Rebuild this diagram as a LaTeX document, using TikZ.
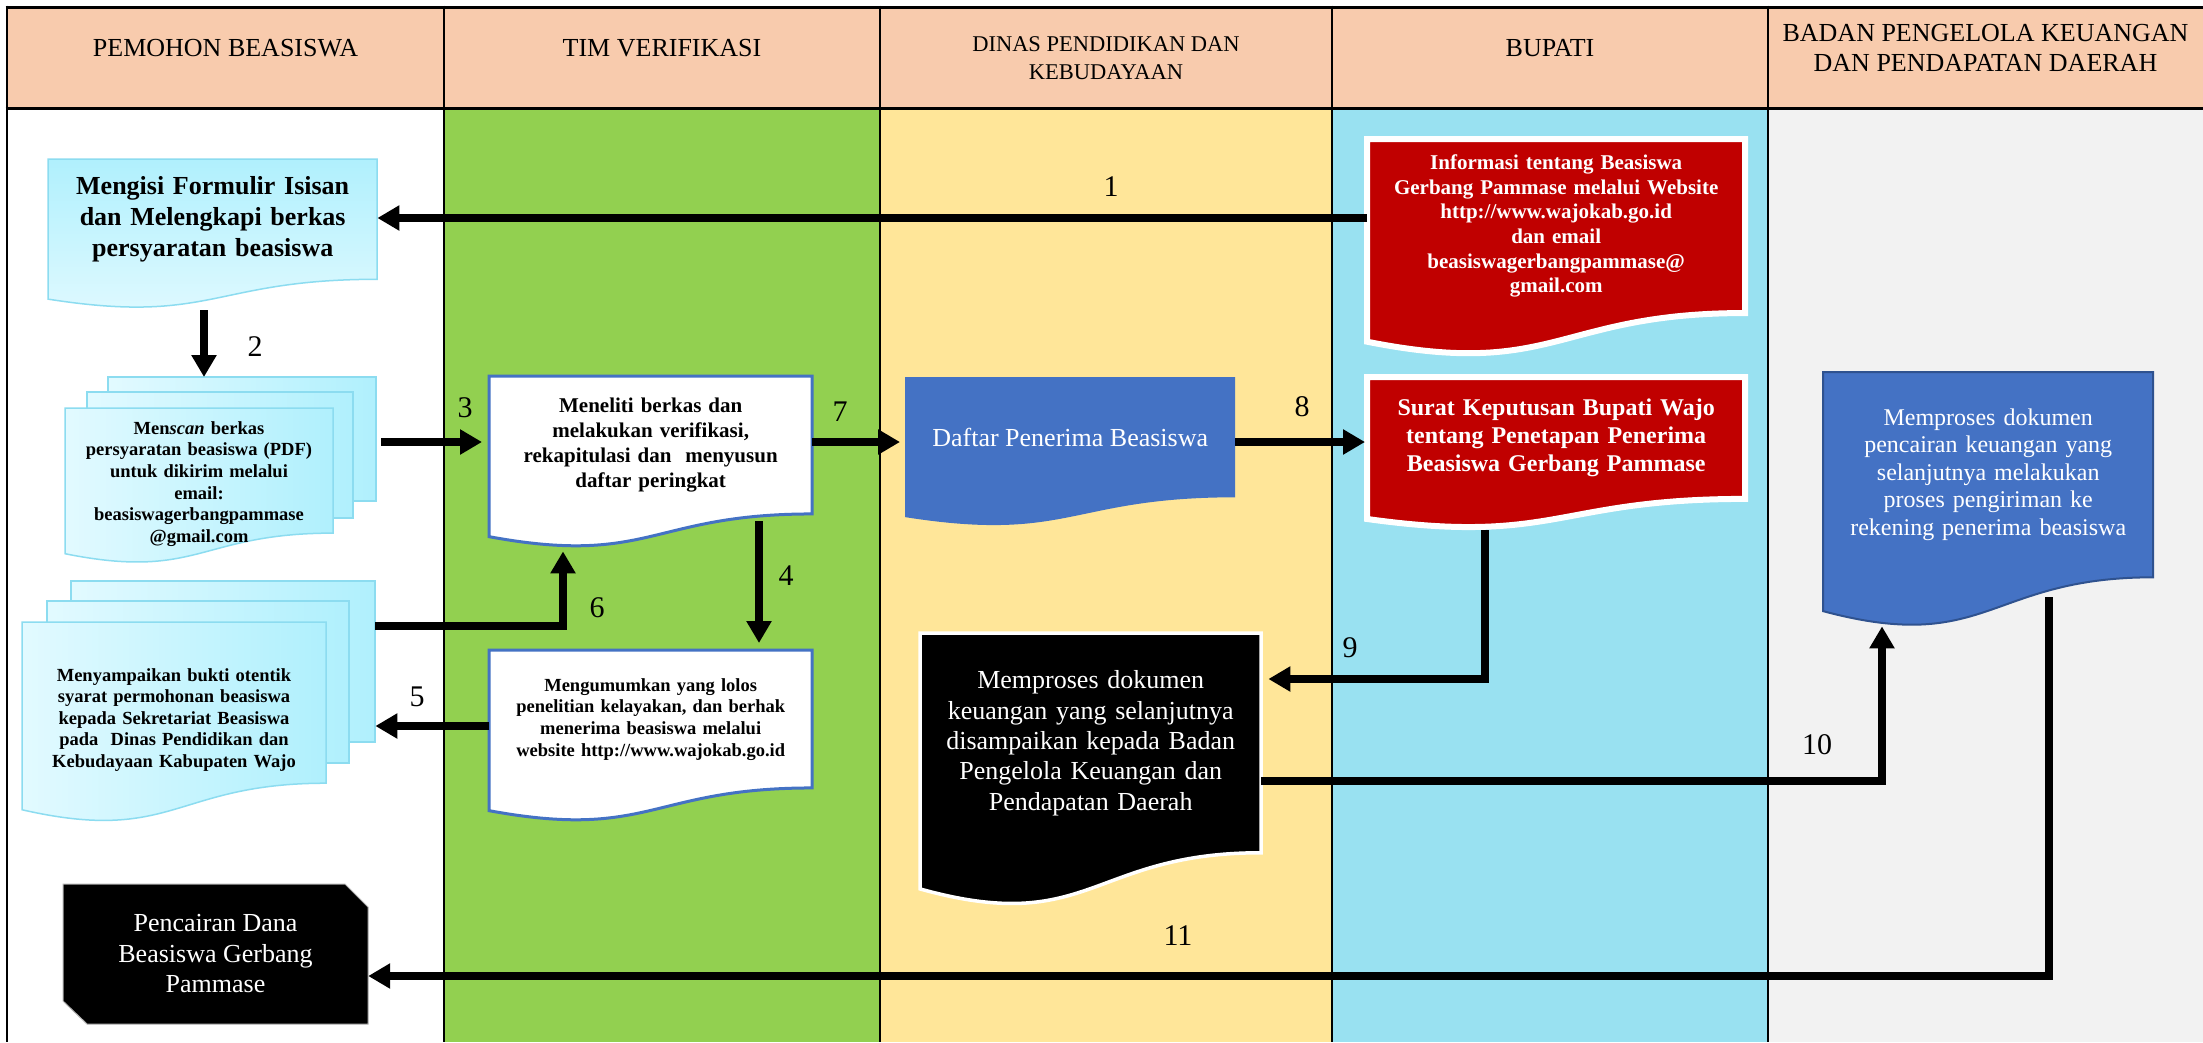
\documentclass[tikz,border=0pt]{standalone}
\usepackage{fontspec}
\setmainfont{Liberation Serif}
\usetikzlibrary{arrows.meta,calc}

\definecolor{hdr}{RGB}{248,203,173}
\definecolor{cgreen}{RGB}{146,208,80}
\definecolor{cyellow}{RGB}{255,230,153}
\definecolor{ccyan}{RGB}{153,225,241}
\definecolor{cgray}{RGB}{242,242,242}
\definecolor{ored}{RGB}{192,0,0}
\definecolor{oblue}{RGB}{68,114,196}
\definecolor{oblueline}{RGB}{47,82,143}
\definecolor{lcyanA}{RGB}{176,240,253}
\definecolor{lcyanB}{RGB}{226,250,255}
\definecolor{lcyanline}{RGB}{140,220,240}

\newcommand\docpath[5]{%
  \path[#1] (#2,#3) -- ({#2+#4},#3) -- ({#2+#4},{#3+0.802*#5})
    .. controls ({#2+0.5*#4},{#3+0.802*#5}) and ({#2+0.5*#4},{#3+1.107*#5}) .. (#2,{#3+0.934*#5}) -- cycle;}

\tikzset{
  arr/.style={line width=8pt, -{Triangle[length=22pt,width=24pt]}},
  numlbl/.style={font=\fontsize{30}{30}\selectfont, inner sep=0pt},
  hdrtxt/.style={font=\fontsize{26}{30}\selectfont, align=center, inner sep=0pt},
  boxtxt/.style={align=center, inner sep=0pt, anchor=north west},
  lightdoc/.style={top color=lcyanA, bottom color=lcyanB, draw=lcyanline, line width=1.5pt},
  pagefill/.style={left color=lcyanB, right color=lcyanA, draw=lcyanline, line width=1.5pt},
  hiddenbox/.style={inner sep=0pt, anchor=north west}
}

\begin{document}
\begin{tikzpicture}[x=1pt,y=-1pt]
\useasboundingbox[fill=white] (0,0) rectangle (2203,1042);

% lanes
\fill[hdr] (7,7) rectangle (2203,108);
\fill[white] (7,108) rectangle (444,1042);
\fill[cgreen] (444,108) rectangle (880,1042);
\fill[cyellow] (880,108) rectangle (1332,1042);
\fill[ccyan] (1332,108) rectangle (1768,1042);
\fill[cgray] (1768,108) rectangle (2203,1042);
\draw[line width=3pt] (5.5,7) -- (2203,7);
\draw[line width=3pt] (5.5,108) -- (2203,108);
\foreach \x in {7,444,880,1332,1768} \draw[line width=2.5pt] (\x,5.5) -- (\x,1042);

% headers
\node[hdrtxt] (h1) at (225.5,48) {PEMOHON BEASISWA};
\node[hdrtxt] (h2) at (662,48) {TIM VERIFIKASI};
\node[hdrtxt, font=\fontsize{22.5}{28}\selectfont] (h3) at (1106,58) {DINAS PENDIDIKAN DAN\\KEBUDAYAAN};
\node[hdrtxt] (h4) at (1550,48) {BUPATI};
\node[hdrtxt] (h5) at (1985.5,48) {BADAN PENGELOLA KEUANGAN\\DAN PENDAPATAN DAERAH};

% n1
\docpath{lightdoc}{48}{159}{329}{150}
\node[boxtxt, minimum width=329pt, minimum height=120pt, text width=320pt, font=\fontsize{26}{31}\selectfont\bfseries] (n1) at (48,159) {Mengisi Formulir Isisan\\dan Melengkapi berkas\\persyaratan beasiswa};

% n2 multi document
\path[pagefill] (108,377) rectangle (376,501);
\path[pagefill] (87,392) rectangle (353,518);
\docpath{pagefill}{65}{408}{268}{156}
\node[hiddenbox, minimum width=311pt, minimum height=156pt] (n2) at (65,377) {};
\node[align=center, inner sep=0pt, text width=262pt, font=\fontsize{18.5}{21.6}\selectfont\bfseries] (n2t) at (199,484) {Men\textit{scan} berkas\\persyaratan beasiswa (PDF)\\untuk dikirim melalui\\email:\\beasiswagerbangpammase\\@gmail.com};

% n3
\docpath{fill=white, draw=oblue, line width=3pt}{489}{376}{323}{172}
\node[boxtxt, minimum width=323pt, minimum height=138pt, text width=310pt, font=\fontsize{21}{25}\selectfont\bfseries] (n3) at (489,376) {Meneliti berkas dan\\melakukan verifikasi,\\rekapitulasi dan\ \ menyusun\\daftar peringkat};

% n4
\docpath{fill=white, draw=oblue, line width=3pt}{489}{650}{323}{172}
\node[boxtxt, minimum width=323pt, minimum height=138pt, text width=310pt, font=\fontsize{18.5}{21.7}\selectfont\bfseries] (n4) at (489,650) {Mengumumkan yang lolos\\penelitian kelayakan, dan berhak\\menerima beasiswa melalui\\website http://www.wajokab.go.id};

% n5 multi document
\path[pagefill] (71,581) rectangle (375,742);
\path[pagefill] (47,601) rectangle (349,763);
\docpath{pagefill}{22}{622}{304}{201}
\node[hiddenbox, minimum width=353pt, minimum height=202pt] (n5) at (22,581) {};
\node[align=center, inner sep=0pt, text width=295pt, font=\fontsize{18.5}{21.5}\selectfont\bfseries] (n5t) at (174,720) {Menyampaikan bukti otentik\\syarat permohonan beasiswa\\kepada Sekretariat Beasiswa\\pada\ \ Dinas Pendidikan dan\\Kebudayaan Kabupaten Wajo};

% n6
\path[fill=black, draw=gray!60, line width=1pt] (63,884) -- (345,884) -- (368,907) -- (368,1024) -- (87,1024) -- (63,1001) -- cycle;
\node[inner sep=0pt, minimum width=305pt, minimum height=140pt, align=center, text=white, font=\fontsize{26}{30.5}\selectfont] (n6) at (215.5,954) {Pencairan Dana\\Beasiswa Gerbang\\Pammase};

% n7
\docpath{fill=oblue}{905}{377}{330}{150}
\node[boxtxt, minimum width=330pt, minimum height=120pt, text=white, font=\fontsize{26}{30}\selectfont] (n7) at (905,377) {Daftar Penerima Beasiswa};

% n8
\docpath{fill=black, draw=white, line width=3.5pt}{920}{633}{341}{274}
\node[boxtxt, minimum width=341pt, minimum height=220pt, text width=330pt, text=white, font=\fontsize{26}{30.3}\selectfont] (n8) at (920,633) {Memproses dokumen\\keuangan yang selanjutnya\\disampaikan kepada Badan\\Pengelola Keuangan dan\\Pendapatan Daerah};

% n9
\docpath{fill=ored, draw=white, line width=6pt}{1367}{139}{378}{217}
\node[boxtxt, minimum width=378pt, minimum height=174pt, text width=360pt, text=white, font=\fontsize{21}{24.6}\selectfont\bfseries] (n9) at (1367,139) {Informasi tentang Beasiswa\\Gerbang Pammase melalui Website\\http://www.wajokab.go.id\\dan email\\beasiswagerbangpammase@\\gmail.com};

% n10
\docpath{fill=ored, draw=white, line width=6pt}{1367}{377}{378}{152}
\node[boxtxt, minimum width=378pt, minimum height=122pt, text width=360pt, text=white, font=\fontsize{24}{28}\selectfont\bfseries] (n10) at (1367,377) {Surat Keputusan Bupati Wajo\\tentang Penetapan Penerima\\Beasiswa Gerbang Pammase};

% n11
\docpath{fill=oblue, draw=oblueline, line width=2pt}{1823}{372}{330}{256}
\node[boxtxt, minimum width=330pt, minimum height=205pt, text width=318pt, text=white, font=\fontsize{24}{27.5}\selectfont] (n11) at (1823,372) {Memproses dokumen\\pencairan keuangan yang\\selanjutnya melakukan\\proses pengiriman ke\\rekening penerima beasiswa};

% connectors
\draw[arr] (n9.west |- 0,218) -- (n1.east |- 0,218);
\draw[arr] ($(n1.south -| 204,0)+(0,31)$) -- (n2.north -| 204,0);
\draw[arr, shorten <=5pt, shorten >=7pt] (n2.east |- 0,442) -- (n3.west |- 0,442);
\draw[arr, shorten >=5pt] (n3.east |- 0,442) -- (n7.west |- 0,442);
\draw[arr, shorten >=2pt] (n7.east |- 0,442) -- (n10.west |- 0,442);
\draw[arr] ($(n3.south -| 759,0)+(0,7)$) -- ($(n4.north -| 759,0)+(0,-7)$);
\draw[arr] (n4.west |- 0,726) -- (n5.east |- 0,726);
\draw[arr] (n5.east |- 0,626) -| ($(n3.south -| 563,0)+(0,37)$);
\draw[arr] ($(n10.south -| 1485,0)+(0,31)$) |- ($(n8.east |- 0,679)+(7,0)$);
\draw[arr] (n8.east |- 0,781) -| ($(n11.south -| 1882,0)+(0,49)$);
\draw[arr] ($(n11.south -| 2049,0)+(0,20)$) |- (n6.east |- 0,976);

% labels
\node[numlbl] (l1) at (1111,187) {1};
\node[numlbl] (l2) at (255,347) {2};
\node[numlbl] (l3) at (465,408) {3};
\node[numlbl] (l4) at (786,576) {4};
\node[numlbl] (l5) at (417,697) {5};
\node[numlbl] (l6) at (597,608) {6};
\node[numlbl] (l7) at (840,412) {7};
\node[numlbl] (l8) at (1302,407) {8};
\node[numlbl] (l9) at (1350,648) {9};
\node[numlbl] (l10) at (1817,745) {10};
\node[numlbl] (l11) at (1178,936) {11};
\end{tikzpicture}
\end{document}
